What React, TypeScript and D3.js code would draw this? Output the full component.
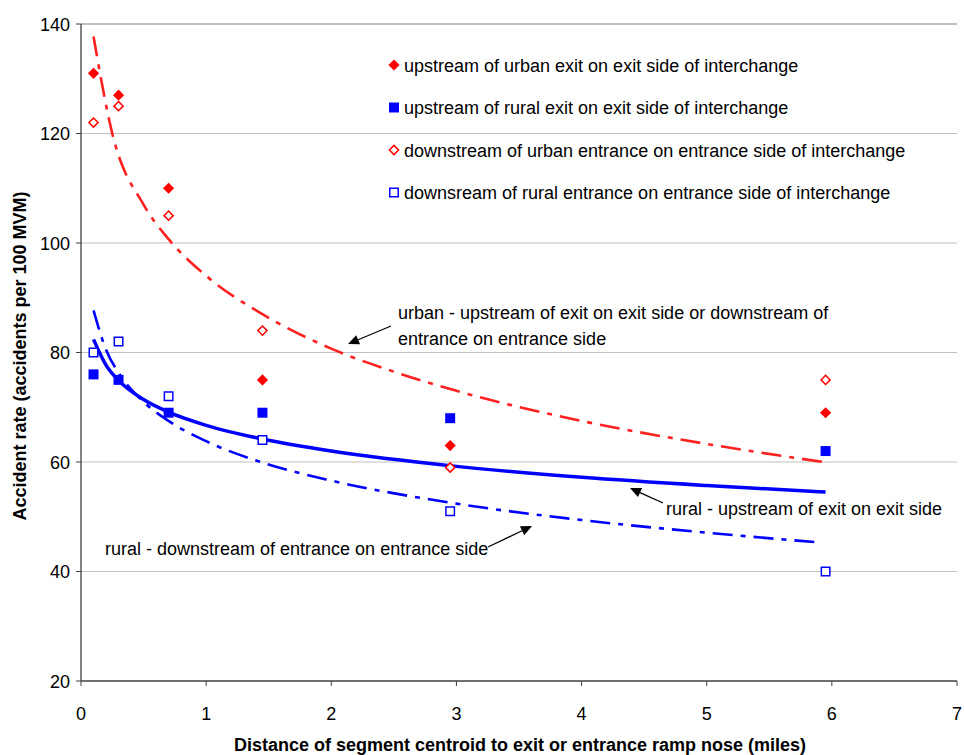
import React from "react";
import { scaleLinear, line, curveMonotoneX, symbol, symbolSquare } from "d3";

const width = 964;
const height = 755;

// marker data
const distances = [0.1, 0.3, 0.7, 1.45, 2.95, 5.95];
const urbanExit = [131, 127, 110, 75, 63, 69];
const ruralExit = [76, 75, 69, 69, 68, 62];
const urbanEntrance = [122, 125, 105, 84, 59, 75];
const ruralEntrance = [80, 82, 72, 64, 51, 40];

// trend lines
const urbanTrendX = [0.1, 0.25, 0.5, 0.7, 1, 1.45, 2, 2.5, 3, 4, 5, 5.93];
const urbanTrendY = [137.7, 120, 107, 100.7, 94, 87, 80.7, 76.5, 73, 67.5, 63.3, 60];
const ruralExitTrendX = [0.1, 0.2, 0.3, 0.5, 0.7, 1, 1.45, 2, 3, 4, 5, 5.95];
const ruralExitTrendY = [82.4, 77.7, 74.9, 71.4, 69.1, 66.7, 64.2, 62, 59.2, 57.2, 55.7, 54.5];
const ruralEntTrendX = [0.1, 0.2, 0.3, 0.5, 0.7, 1, 1.45, 2, 3, 4, 5, 5.9];
const ruralEntTrendY = [87.7, 80.5, 76.3, 71.0, 67.5, 63.8, 59.9, 56.6, 52.4, 49.4, 47.1, 45.3];

const xTicks = [0, 1, 2, 3, 4, 5, 6, 7];
const yTicks = [20, 40, 60, 80, 100, 120, 140];

const legendLabels = [
    "upstream of urban exit on exit side of interchange",
    "upstream of rural exit on exit side of interchange",
    "downstream of urban entrance on entrance side of interchange",
    "downsream of rural entrance on entrance side of interchange",
];

const font = "Arial, 'Liberation Sans', sans-serif";
const red = "#ff0000";
const blue = "#0000ff";

const x = scaleLinear().domain([0, 7]).range([81, 957]);
const y = scaleLinear().domain([20, 140]).range([681, 24]);

function trend(xs: number[], ys: number[]) {
    return line<number>()
        .x((d) => x(d))
        .y((d, i) => y(ys[i]))
        .curve(curveMonotoneX)(xs) || "";
}

const diamondPath = (r: number) => `M0,${-r}L${r},0L0,${r}L${-r},0Z`;
const square = symbol().type(symbolSquare).size(100)() || "";
const openSquare = symbol().type(symbolSquare).size(72)() || "";

function Marker({ kind, cx, cy }: { kind: number; cx: number; cy: number }) {
    const t = `translate(${cx},${cy})`;
    if (kind === 0) return <path d={diamondPath(5.6)} transform={t} fill={red} />;
    if (kind === 1) return <path d={square} transform={t} fill={blue} />;
    if (kind === 2) return <path d={diamondPath(4.6)} transform={t} fill="white" stroke={red} strokeWidth={1.5} />;
    return <path d={openSquare} transform={t} fill="white" stroke={blue} strokeWidth={1.5} />;
}

function Arrow({ x1, y1, x2, y2 }: { x1: number; y1: number; x2: number; y2: number }) {
    const ang = Math.atan2(y2 - y1, x2 - x1);
    const len = 11, w = 5;
    const bx = x2 - len * Math.cos(ang), by = y2 - len * Math.sin(ang);
    const px = -Math.sin(ang) * w, py = Math.cos(ang) * w;
    return (
        <g>
            <line x1={x1} y1={y1} x2={bx} y2={by} stroke="black" strokeWidth={1.3} />
            <path d={`M${x2},${y2}L${bx + px},${by + py}L${bx - px},${by - py}Z`} fill="black" />
        </g>
    );
}

function App() {
    const series = [urbanExit, ruralExit, urbanEntrance, ruralEntrance];
    return (
        <svg width={width} height={height} style={{ position: "absolute", left: 0, top: 0, background: "white" }} fontFamily={font}>
            {/* grid */}
            {yTicks.slice(1).map((t) => (
                <line key={t} x1={x(0)} x2={x(7)} y1={y(t)} y2={y(t)}
                      stroke={t === 140 ? "#808080" : "#c0c0c0"} strokeWidth={1.2} />
            ))}
            {/* axes */}
            <line x1={x(0)} x2={x(0)} y1={y(140)} y2={y(20)} stroke="#404040" strokeWidth={1.3} />
            <line x1={x(0)} x2={x(7)} y1={y(20)} y2={y(20)} stroke="#404040" strokeWidth={1.3} />
            {yTicks.map((t) => (
                <g key={t}>
                    <line x1={x(0) - 5} x2={x(0)} y1={y(t)} y2={y(t)} stroke="#404040" />
                    <text x={70} y={y(t) + 6.5} textAnchor="end" fontSize={18}>{t}</text>
                </g>
            ))}
            {xTicks.map((t) => (
                <g key={t}>
                    <line x1={x(t)} x2={x(t)} y1={y(20)} y2={y(20) + 5} stroke="#404040" />
                    <text x={x(t)} y={720} textAnchor="middle" fontSize={18}>{t}</text>
                </g>
            ))}
            <text x={520} y={751} textAnchor="middle" fontSize={18} fontWeight="bold">
                Distance of segment centroid to exit or entrance ramp nose (miles)
            </text>
            <text transform="translate(26,356) rotate(-90)" textAnchor="middle" fontSize={18} fontWeight="bold">
                Accident rate (accidents per 100 MVM)
            </text>

            {/* trend lines */}
            <path d={trend(urbanTrendX, urbanTrendY)} fill="none" stroke="#ff2020" strokeWidth={2.6}
                  strokeDasharray="20,8,5,8" />
            <path d={trend(ruralEntTrendX, ruralEntTrendY)} fill="none" stroke={blue} strokeWidth={2.6}
                  strokeDasharray="20,8,5,8" />
            <path d={trend(ruralExitTrendX, ruralExitTrendY)} fill="none" stroke={blue} strokeWidth={3.5} />

            {/* markers */}
            {series.map((s, k) => (
                <g key={k}>
                    {s.map((v, i) => <Marker key={i} kind={k} cx={x(distances[i])} cy={y(v)} />)}
                </g>
            ))}

            {/* legend */}
            {legendLabels.map((l, i) => (
                <g key={i}>
                    <Marker kind={i} cx={394} cy={65 + i * 42.5} />
                    <text x={404} y={65 + i * 42.5 + 6.5} fontSize={18}>{l}</text>
                </g>
            ))}

            {/* annotations */}
            <text x={398} y={319} fontSize={18}>urban - upstream of exit on exit side or downstream of</text>
            <text x={398} y={345} fontSize={18}>entrance on entrance side</text>
            <Arrow x1={391} y1={326} x2={348} y2={344} />
            <text x={666} y={515} fontSize={18}>rural - upstream of exit on exit side</text>
            <Arrow x1={663} y1={503} x2={630} y2={488} />
            <text x={105} y={555} fontSize={18}>rural - downstream of entrance on entrance side</text>
            <Arrow x1={488} y1={547} x2={532} y2={526} />
        </svg>
    );
}

export default App;
